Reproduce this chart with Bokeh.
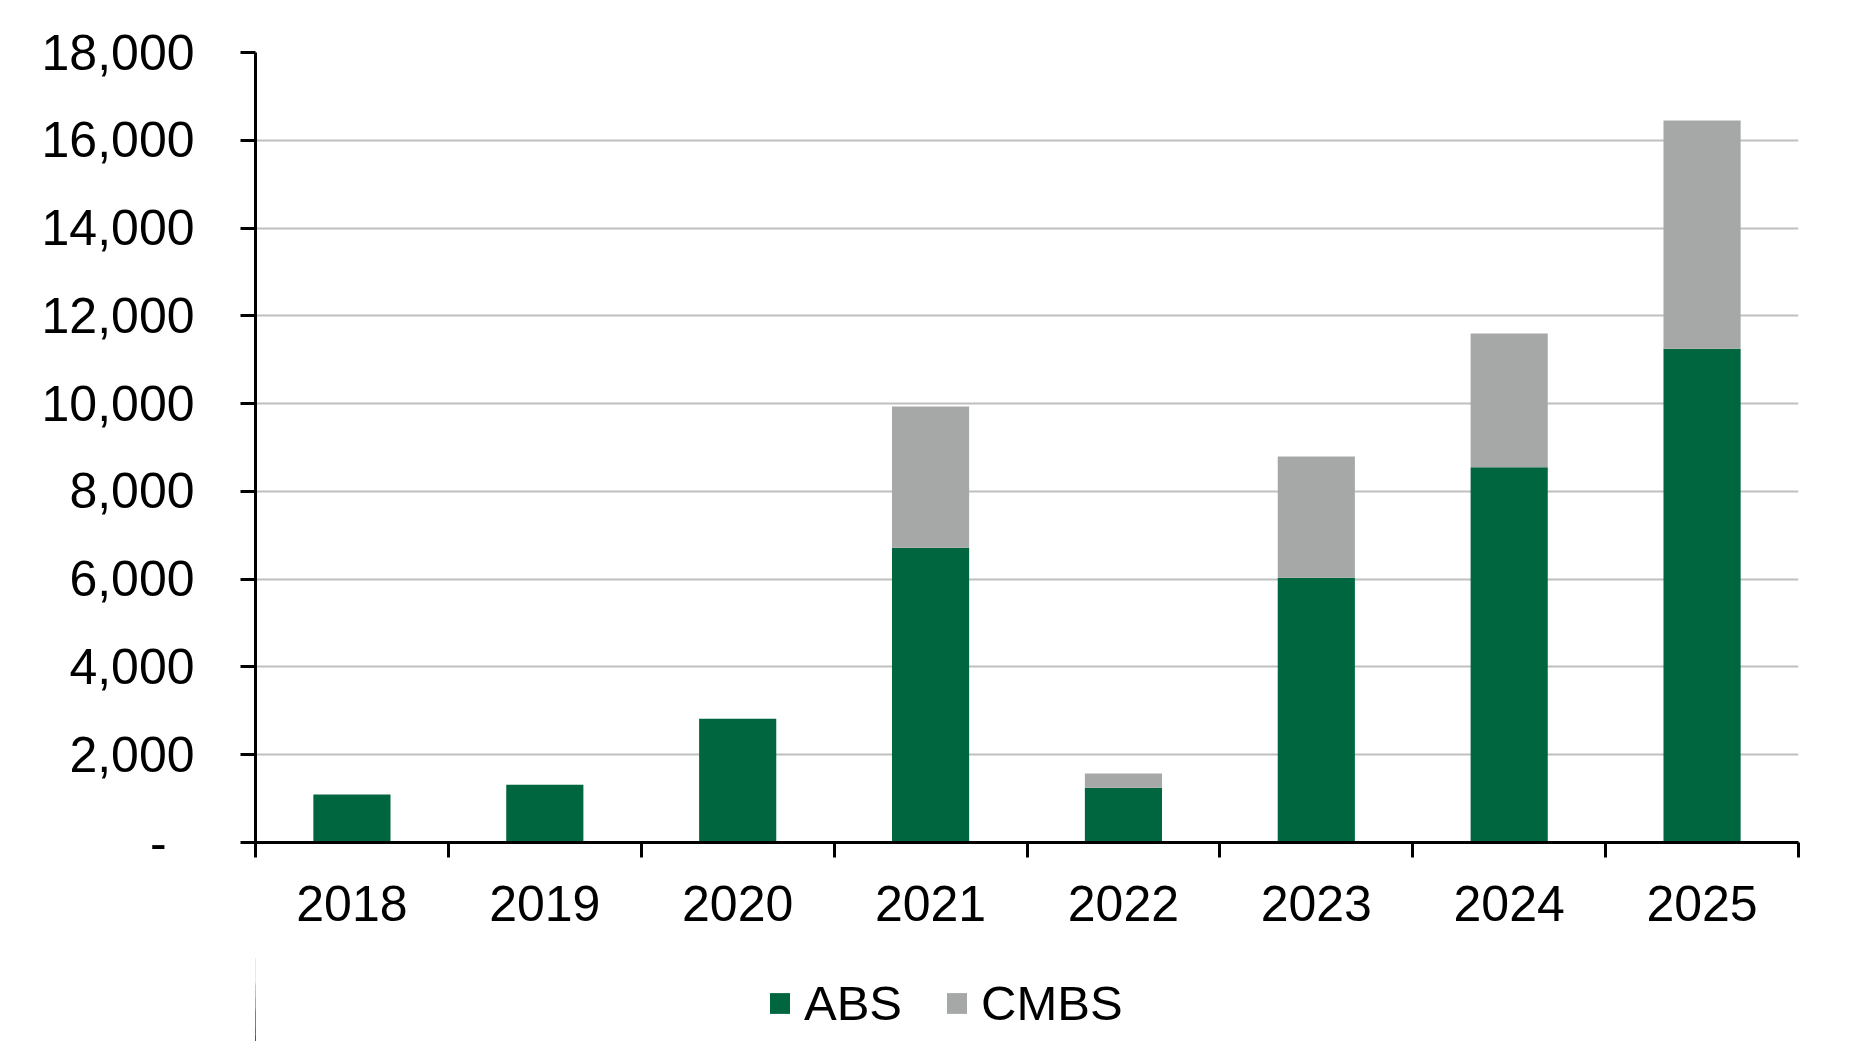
from bokeh.plotting import figure
from bokeh.layouts import column
from bokeh.models import (ColumnDataSource, Range1d, FixedTicker, CustomJSTickFormatter,
                          Legend, LegendItem)
from bokeh.embed import file_html
from bokeh.resources import INLINE

years = ["2018", "2019", "2020", "2021", "2022", "2023", "2024", "2025"]
abs_vals = [1095, 1315, 2820, 6715, 1250, 6030, 8550, 11250]
cmbs_vals = [0, 0, 0, 3220, 320, 2765, 3050, 5200]
y_ticks = [0, 2000, 4000, 6000, 8000, 10000, 12000, 14000, 16000, 18000]

GREEN = "#006640"
GRAY = "#A6A8A7"
FONT = "Liberation Sans"

pos = [i + 0.5 for i in range(len(years))]
src = ColumnDataSource(dict(pos=pos, year=years, ABS=abs_vals, CMBS=cmbs_vals))

p = figure(width=1833, height=950, output_backend="svg", toolbar_location=None,
           x_range=Range1d(0, len(years)), y_range=Range1d(0, 18000),
           min_border_left=255, min_border_top=52, min_border_right=35,
           min_border_bottom=108)
p.frame_width = 1543
p.frame_height = 790
p.outline_line_color = None

rs = p.vbar_stack(["ABS", "CMBS"], x="pos", width=0.4, source=src,
                  fill_color=[GREEN, GRAY], line_color=None)

xa = p.xaxis[0]
xa.ticker = FixedTicker(ticks=pos, minor_ticks=list(range(len(years) + 1)))
xa.major_label_overrides = {pp: y for pp, y in zip(pos, years)}
xa.major_tick_out = 0
xa.major_tick_in = 0
xa.minor_tick_out = 15
xa.minor_tick_in = 0
xa.minor_tick_line_color = "black"
xa.minor_tick_line_width = 3
xa.axis_line_color = "black"
xa.axis_line_width = 3
xa.major_label_text_font = FONT
xa.major_label_text_font_size = "50px"
xa.major_label_text_color = "black"
xa.major_label_standoff = 28

ya = p.yaxis[0]
ya.ticker = FixedTicker(ticks=y_ticks)
ya.formatter = CustomJSTickFormatter(code="""
    if (tick == 0) { return "-\\u00a0\\u00a0"; }
    return tick.toLocaleString('en-US');
""")
ya.major_tick_out = 15
ya.major_tick_in = 0
ya.minor_tick_out = 0
ya.minor_tick_in = 0
ya.major_tick_line_color = "black"
ya.major_tick_line_width = 3
ya.axis_line_color = "black"
ya.axis_line_width = 3
ya.major_label_text_font = FONT
ya.major_label_text_font_size = "50px"
ya.major_label_text_color = "black"
ya.major_label_standoff = 46

p.xgrid.grid_line_color = None
p.ygrid.grid_line_color = "#BFBFBF"
p.ygrid.grid_line_width = 2

# legend strip below the chart (its bars lie far outside the visible x range)
lg = figure(width=1833, height=91, output_backend="svg", toolbar_location=None,
            x_range=Range1d(40, 41), y_range=Range1d(0, 18000), min_border=0)
lg.frame_width = 1833
lg.frame_height = 91
lg.outline_line_color = None
lg.axis.visible = False
lg.grid.visible = False
lrs = lg.vbar_stack(["ABS", "CMBS"], x="pos", width=0.4, source=src,
                    fill_color=[GREEN, GRAY], line_color=None)

legend = Legend(items=[LegendItem(label="ABS", renderers=[lrs[0]]),
                       LegendItem(label="CMBS", renderers=[lrs[1]])],
                location=(767, 10), orientation="horizontal")
legend.border_line_color = None
legend.background_fill_alpha = 0
legend.label_text_font = FONT
legend.label_text_font_size = "49px"
legend.label_text_color = "black"
legend.glyph_width = 25
legend.glyph_height = 26
legend.label_standoff = 12
legend.spacing = 42
legend.padding = 5
legend.margin = 0
lg.add_layout(legend, "center")

layout = column(p, lg, spacing=0)
open("out.html", "w").write(file_html(layout, INLINE))
